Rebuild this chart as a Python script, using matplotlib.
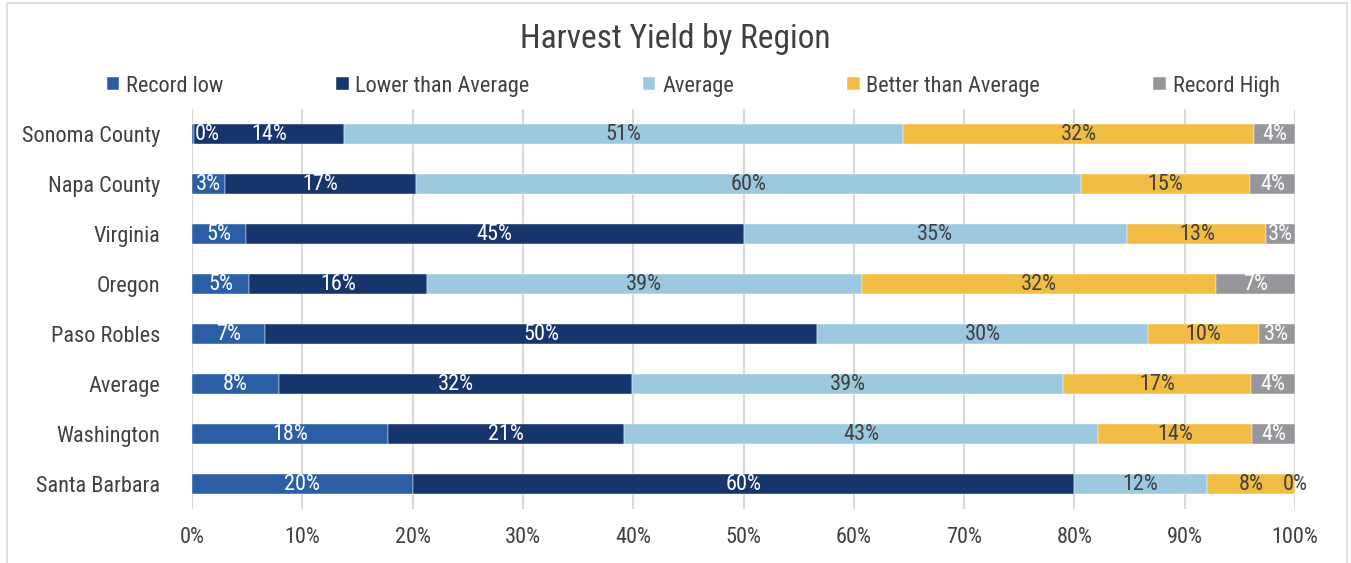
import matplotlib
matplotlib.use("Agg")
import matplotlib.pyplot as plt
from matplotlib.patches import Rectangle
import numpy as np

plt.rcParams['font.family'] = ['Roboto Condensed', 'Liberation Sans Narrow', 'Roboto', 'DejaVu Sans']

# data (percent, top row first)
regions = ['Sonoma County', 'Napa County', 'Virginia', 'Oregon', 'Paso Robles',
           'Average', 'Washington', 'Santa Barbara']
record_low = [0.2, 3.0, 4.9, 5.2, 6.6, 7.9, 17.8, 20.0]
lower_avg = [13.6, 17.3, 45.1, 16.1, 50.1, 32.0, 21.4, 60.0]
average = [50.7, 60.3, 34.8, 39.4, 30.0, 39.1, 42.9, 12.0]
better_avg = [31.8, 15.3, 12.6, 32.1, 10.0, 17.0, 14.0, 8.0]
record_high = [3.7, 4.1, 2.6, 7.2, 3.3, 4.0, 3.9, 0.0]

series = ['Record low', 'Lower than Average', 'Average', 'Better than Average', 'Record High']
colors = ['#2A5FA5', '#16356C', '#9DC9E0', '#F2BD45', '#97979B']
label_colors = ['white', 'white', '#404040', '#404040', 'white']
values = [record_low, lower_avg, average, better_avg, record_high]

txt = '#404040'
fs = 16
fig = plt.figure(figsize=(13.51, 5.63), dpi=100)
ax = fig.add_axes([192 / 1351, 1 - 509 / 563, (1295 - 192) / 1351, 400 / 563])

# outer chart border
fig.patches.append(Rectangle((7 / 1351, -0.05), 1340 / 1351, 1.044, transform=fig.transFigure,
                             fill=False, edgecolor='#D9D9D9', linewidth=1.2))

y = np.arange(len(regions))
left = np.zeros(len(regions))
for name, vals, c, lc in zip(series, values, colors, label_colors):
    vals = np.array(vals)
    ax.barh(y, vals, left=left, height=0.4, color=c, label=name,
            edgecolor='white', linewidth=0.3, zorder=3)
    for yi, (l, v) in enumerate(zip(left, vals)):
        cx = max(l + v / 2, 1.4)
        col = lc if (v > 0 or l < 1) else txt
        ax.text(cx, yi, f'{v:.0f}%', ha='center', va='center', color=col,
                fontsize=fs, zorder=4)
    left = left + vals

ax.set_xlim(0, 100)
ax.set_ylim(len(regions) - 0.5, -0.5)
ax.set_yticks(y)
ax.set_yticklabels(regions)
ax.set_xticks(np.arange(0, 101, 10))
ax.set_xticklabels([f'{t}%' for t in range(0, 101, 10)])
ax.tick_params(axis='y', length=0, pad=23, labelsize=fs, labelcolor=txt)
ax.tick_params(axis='x', length=0, pad=13, labelsize=fs, labelcolor=txt)
ax.grid(axis='x', color='#D9D9D9', linewidth=1.5, zorder=0)
for s in ax.spines.values():
    s.set_visible(False)

fig.text(0.5, 1 - 39 / 563, 'Harvest Yield by Region', ha='center',
         va='center', fontsize=24, color=txt)

fig.legend(loc='center', bbox_to_anchor=(0.513, 1 - 86 / 563), ncol=5, frameon=False,
           fontsize=fs, handlelength=0.56, handleheight=0.56, handletextpad=0.3,
           columnspacing=5.1, labelcolor=txt)

fig.savefig('out.png', dpi=100)
